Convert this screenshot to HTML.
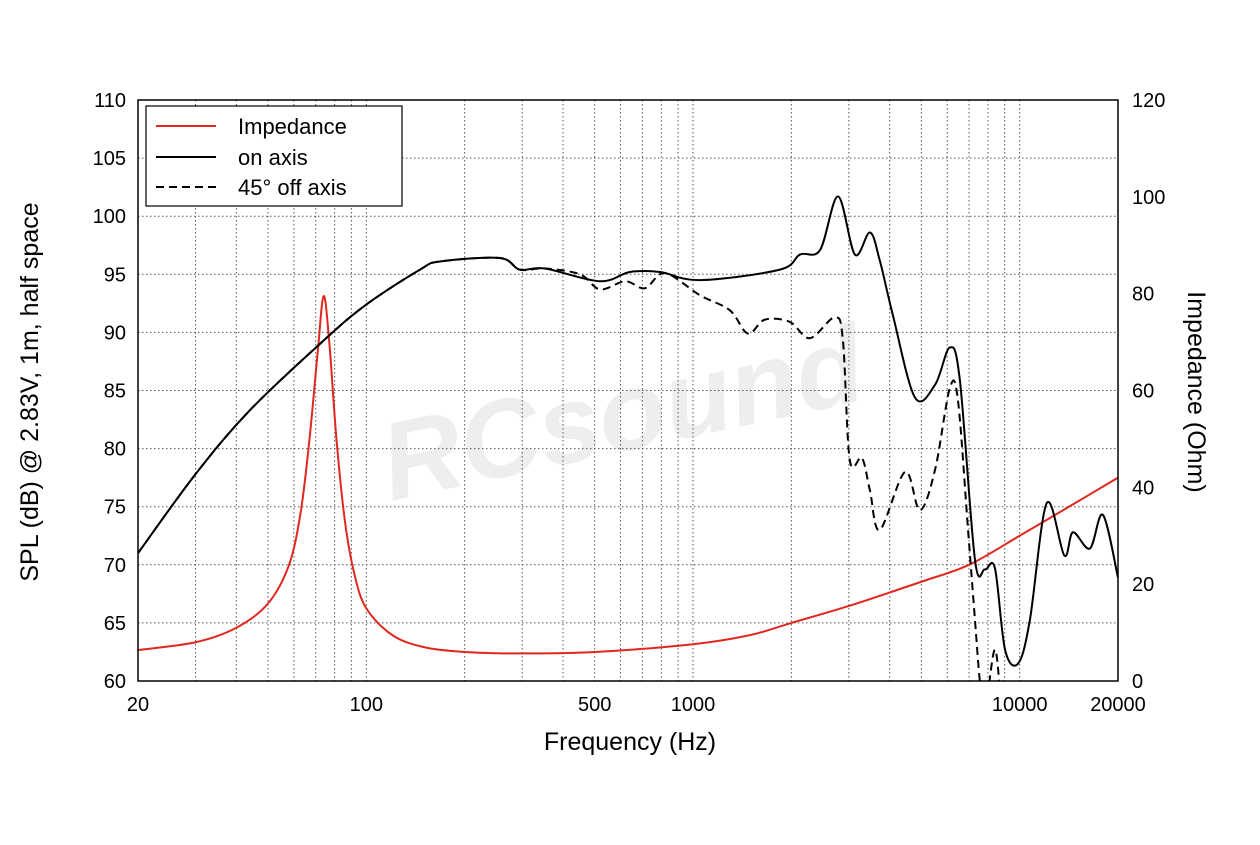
<!DOCTYPE html>
<html><head><meta charset="utf-8"><style>
body{margin:0;background:#fff;}
svg text{font-family:"Liberation Sans",Arial,sans-serif;}
</style></head><body>
<svg id="chart" width="1260" height="840" viewBox="0 0 1260 840" xmlns="http://www.w3.org/2000/svg">
<defs><clipPath id="plotclip"><rect x="138" y="100" width="980" height="581"/></clipPath></defs>
<text x="630" y="450" font-size="110" font-weight="bold" fill="#eeeeee" text-anchor="middle" transform="rotate(-12 630 450)" font-style="italic">RCsound</text>
<g id="grid"></g>
<g id="series" clip-path="url(#plotclip)"></g>
<rect x="138" y="100" width="980" height="581" fill="none" stroke="#000" stroke-width="1.5"/>
<g id="ticks"></g>
<text x="630" y="750" font-size="25" text-anchor="middle">Frequency (Hz)</text>
<text transform="translate(38 392) rotate(-90)" font-size="25" text-anchor="middle">SPL (dB) @ 2.83V, 1m, half space</text>
<text transform="translate(1188 392) rotate(90)" font-size="25" text-anchor="middle">Impedance (Ohm)</text>
<g>
<rect x="146" y="106" width="256" height="100" fill="#fff" stroke="#000" stroke-width="1.2"/>
<line x1="156" y1="126" x2="216" y2="126" stroke="#e0281e" stroke-width="2"/>
<text x="238" y="134" font-size="22">Impedance</text>
<line x1="156" y1="157" x2="216" y2="157" stroke="#000" stroke-width="2"/>
<text x="238" y="165" font-size="22">on axis</text>
<line x1="156" y1="187" x2="216" y2="187" stroke="#000" stroke-width="2" stroke-dasharray="8,5"/>
<text x="238" y="195" font-size="22">45° off axis</text>
</g>
</svg>
<script>
const onFreq=[20,30,44,74,100,146,168,256,295,352,519,641,793,1050,1845,2125,2450,2780,3130,3480,3730,4090,4780,5510,6110,6560,7300,7830,8400,9020,9890,10740,12100,13700,14560,16400,17980,20000];
const onDb=[71.0,77.8,83.3,89.3,92.4,95.4,96.1,96.4,95.4,95.5,94.4,95.2,95.2,94.5,95.4,96.7,97.1,101.7,96.7,98.6,96.2,91.5,84.4,85.5,88.7,85.9,70.4,69.6,69.7,62.7,61.5,65.2,75.3,70.8,72.8,71.4,74.3,68.9];
const offFreq=[20,30,44,74,100,146,168,256,295,352,451,519,620,713,821,1050,1297,1472,1660,1980,2280,2717,2877,3020,3290,3480,3730,4460,4950,5510,6110,6470,6950,7300,7550,7800,8400,8800];
const offDb=[71.0,77.8,83.3,89.3,92.4,95.4,96.1,96.4,95.4,95.5,95.0,93.7,94.4,93.8,95.1,93.2,91.9,89.9,91.1,90.9,89.5,91.3,89.3,79.0,79.2,76.4,73.0,78.0,74.7,78.2,85.2,84.2,73.0,65.2,60,57,62.7,57];
const impFreq=[20,30,40,50,58,63,67,71,74,77,81,86,92,100,120,150,200,300,500,1000,1500,2000,3000,5000,7000,10000,15000,20000];
const impOhm=[6.4,8,11,16,24,35,50,68,79.5,70,50,33,22,15,9.5,7,6,5.7,6,7.6,9.5,12,15.5,20.5,24,30,37,42];
const xTicks=[20,100,500,1000,10000,20000];
const yTicks=[60,65,70,75,80,85,90,95,100,105,110];
const rTicks=[0,20,40,60,80,100,120];
const L=138,R=1118,T=100,B=681,NS="http://www.w3.org/2000/svg";
const X=f=>L+(Math.log10(f/20))/3*(R-L);
const Y=d=>B-(d-60)/50*(B-T);
const YR=o=>B-o/120*(B-T);
function mk(tag,attrs,parent){const e=document.createElementNS(NS,tag);for(const k in attrs)e.setAttribute(k,attrs[k]);parent.appendChild(e);return e;}
const grid=document.getElementById('grid'),ticks=document.getElementById('ticks'),series=document.getElementById('series');
const minor=[];for(const dec of [10,100,1000,10000])for(let m=1;m<10;m++){const f=dec*m;if(f>20&&f<20000)minor.push(f);}
minor.forEach(f=>{const l=mk('line',{x1:X(f),x2:X(f),y1:T,y2:B,stroke:'#555','stroke-width':1,'stroke-dasharray':'1.5,2.5'},grid);

});
yTicks.slice(1,-1).forEach(d=>{const l=mk('line',{x1:L,x2:R,y1:Y(d),y2:Y(d),stroke:'#555','stroke-width':1,'stroke-dasharray':'1.5,2.5'},grid);

});
xTicks.forEach(f=>{const t=mk('text',{x:X(f),y:711,'font-size':20,'text-anchor':'middle'},ticks);t.textContent=f;

});
yTicks.forEach(d=>{const t=mk('text',{x:126,y:Y(d)+7,'font-size':20,'text-anchor':'end'},ticks);t.textContent=d;

});
rTicks.forEach(o=>{const t=mk('text',{x:1132,y:YR(o)+7,'font-size':20,'text-anchor':'start'},ticks);t.textContent=o;

});
function smooth(pts){let d='M'+pts[0][0]+','+pts[0][1];for(let i=0;i<pts.length-1;i++){const p0=pts[i-1]||pts[i],p1=pts[i],p2=pts[i+1],p3=pts[i+2]||p2;
d+=' C'+(p1[0]+(p2[0]-p0[0])/6)+','+(p1[1]+(p2[1]-p0[1])/6)+' '+(p2[0]-(p3[0]-p1[0])/6)+','+(p2[1]-(p3[1]-p1[1])/6)+' '+p2[0]+','+p2[1];}return d;}
const p1=mk('path',{d:smooth(impFreq.map((f,i)=>[X(f),YR(impOhm[i])])),fill:'none',stroke:'#e0281e','stroke-width':2},series);


const p3=mk('path',{d:smooth(offFreq.map((f,i)=>[X(f),Y(offDb[i])])),fill:'none',stroke:'#000','stroke-width':2,'stroke-dasharray':'8,5'},series);


const p2=mk('path',{d:smooth(onFreq.map((f,i)=>[X(f),Y(onDb[i])])),fill:'none',stroke:'#000','stroke-width':2},series);


</script>
</body></html>
